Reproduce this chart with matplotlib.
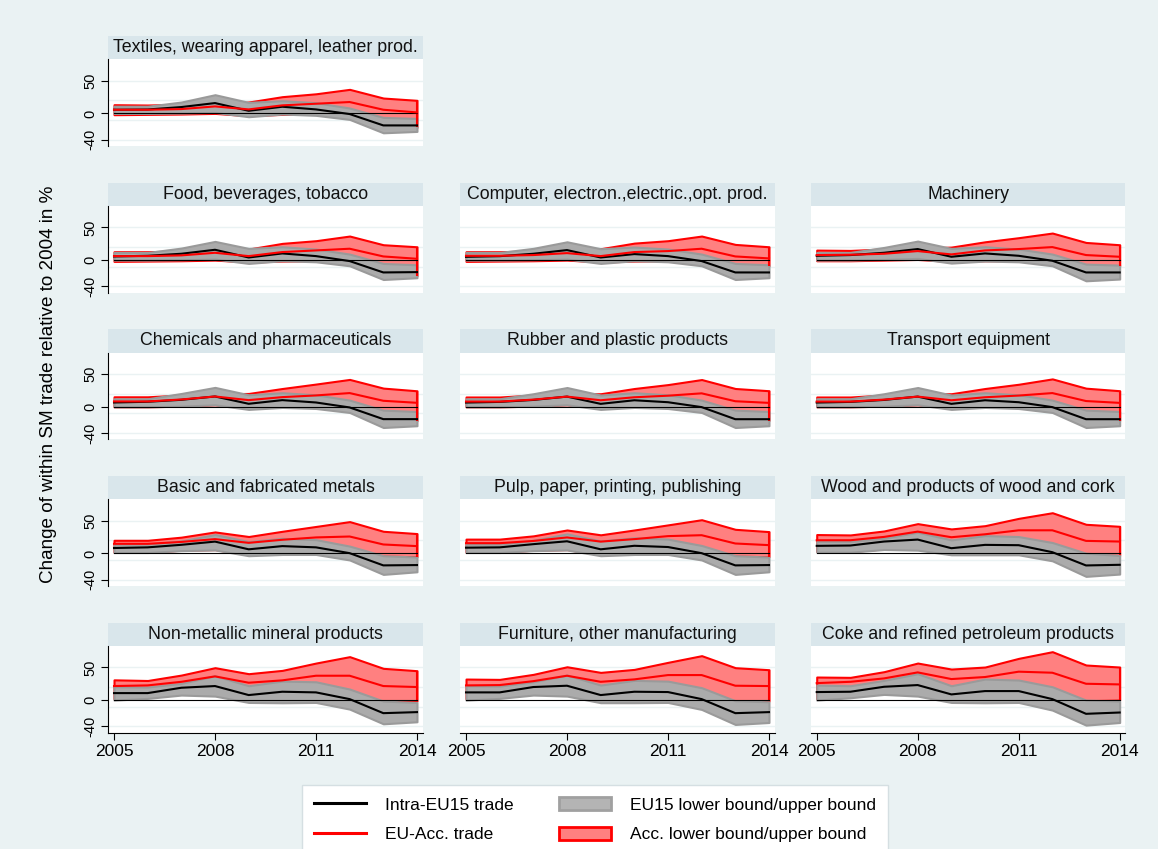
import matplotlib.pyplot as plt
from matplotlib.patches import Rectangle, Patch
from matplotlib.lines import Line2D

plt.rcParams['font.family'] = ['Liberation Sans', 'DejaVu Sans']

YEARS = list(range(2005, 2015))
X_TICKS = [2005, 2008, 2011, 2014]
Y_TICKS = [-40, 0, 50]
GRID_Y = [-40, -10, 20, 50]

PANELS = [
    "Textiles, wearing apparel, leather prod.",
    "Food, beverages, tobacco",
    "Computer, electron.,electric.,opt. prod.",
    "Machinery",
    "Chemicals and pharmaceuticals",
    "Rubber and plastic products",
    "Transport equipment",
    "Basic and fabricated metals",
    "Pulp, paper, printing, publishing",
    "Wood and products of wood and cork",
    "Non-metallic mineral products",
    "Furniture, other manufacturing",
    "Coke and refined petroleum products",
]

# Intra-EU15 trade, % change relative to 2004
EU15 = [
    [5.6, 6.0, 9.7, 15.8, 4.0, 10.2, 6.1, -1.0, -18.4, -18.4],
    [5.6, 6.6, 9.7, 15.8, 4.0, 10.2, 6.1, -1.5, -18.9, -18.4],
    [5.0, 6.0, 9.7, 15.3, 4.0, 9.2, 6.1, -1.5, -18.9, -18.9],
    [6.6, 7.7, 11.2, 16.9, 5.1, 10.2, 6.6, -1.0, -18.9, -18.9],
    [6.6, 7.7, 10.7, 15.8, 4.6, 10.2, 6.6, -1.0, -18.9, -18.9],
    [6.5, 7.5, 10.5, 15.6, 4.5, 10.0, 7.0, -0.5, -19.0, -19.0],
    [6.5, 7.5, 10.5, 15.6, 4.5, 10.0, 7.0, -0.5, -19.0, -19.0],
    [8.4, 9.4, 13.3, 18.2, 6.4, 11.3, 9.4, 0.5, -18.2, -17.7],
    [8.9, 9.4, 14.3, 18.7, 6.4, 11.8, 9.9, 0.5, -18.2, -17.7],
    [11.7, 12.2, 18.3, 21.3, 8.1, 13.2, 12.7, 2.0, -18.3, -17.3],
    [10.7, 10.7, 18.9, 21.5, 7.7, 12.8, 11.8, 1.5, -20.0, -18.4],
    [11.8, 11.8, 20.0, 22.0, 7.7, 12.8, 12.3, 1.5, -20.0, -18.4],
    [12.3, 12.8, 20.4, 23.0, 8.7, 13.8, 13.8, 1.5, -21.0, -19.0],
]
EU15_LO = [
    [0.0, 0.0, 0.5, 1.5, -5.1, -1.0, -3.0, -9.2, -29.7, -27.6],
    [0.0, 0.0, 0.5, 1.5, -5.1, -1.0, -2.6, -8.7, -29.7, -27.0],
    [0.0, 0.0, 0.5, 1.5, -5.1, -1.0, -2.6, -8.7, -29.7, -27.0],
    [0.0, 0.0, 1.0, 2.6, -4.6, -1.5, -2.6, -8.7, -31.7, -29.0],
    [0.0, 0.0, 1.0, 3.0, -4.0, -1.0, -2.6, -8.7, -31.7, -29.0],
    [0.0, 0.0, 1.0, 3.0, -4.0, -1.0, -2.6, -8.7, -31.7, -29.0],
    [0.0, 0.0, 1.0, 3.0, -4.0, -1.0, -2.6, -8.7, -31.7, -29.0],
    [1.5, 1.5, 4.4, 5.4, -3.4, -1.5, -1.5, -9.9, -32.0, -28.0],
    [1.5, 1.5, 4.4, 5.4, -3.4, -1.5, -1.5, -9.9, -32.0, -28.0],
    [2.0, 2.0, 6.1, 5.1, -2.0, -2.0, -2.0, -11.2, -35.0, -31.5],
    [0.0, 2.6, 7.7, 6.1, -3.6, -4.1, -3.6, -13.8, -36.3, -33.2],
    [0.0, 2.6, 7.7, 6.1, -4.0, -4.0, -3.6, -14.3, -37.3, -34.3],
    [0.0, 3.6, 8.7, 6.1, -3.6, -4.1, -3.6, -15.3, -38.3, -34.3],
]
EU15_HI = [
    [11.0, 11.0, 17.4, 28.6, 16.9, 19.4, 16.4, 8.2, -6.1, -7.7],
    [11.7, 11.7, 18.4, 28.6, 17.9, 20.4, 16.9, 9.2, -5.1, -7.2],
    [11.7, 11.7, 18.0, 28.0, 17.4, 20.0, 16.9, 9.2, -5.1, -7.2],
    [11.7, 11.7, 19.4, 29.1, 17.9, 20.4, 16.9, 9.2, -6.1, -7.7],
    [12.3, 12.3, 20.4, 29.7, 18.4, 21.5, 18.4, 10.2, -5.1, -7.2],
    [12.3, 12.3, 20.0, 29.5, 18.0, 21.5, 18.4, 10.2, -5.1, -7.2],
    [12.3, 12.3, 20.0, 29.5, 18.0, 21.5, 18.4, 10.2, -5.1, -7.2],
    [14.3, 14.3, 19.2, 29.0, 18.2, 23.2, 21.2, 11.3, -3.4, -5.4],
    [14.3, 14.3, 20.2, 30.0, 19.2, 24.0, 22.0, 12.3, -3.4, -5.4],
    [18.3, 18.3, 23.4, 32.5, 20.8, 27.4, 25.9, 16.8, 0.5, -3.0],
    [20.4, 20.0, 25.6, 37.3, 22.0, 29.1, 28.0, 16.9, -1.5, -3.6],
    [22.0, 21.5, 28.0, 38.3, 23.0, 30.2, 29.0, 19.0, -1.0, -2.6],
    [23.0, 22.0, 30.2, 40.4, 22.0, 32.2, 30.7, 20.4, 0.0, -1.5],
]

# EU-Accession trade, % change relative to 2004
ACC = [
    [5.6, 5.6, 6.6, 10.7, 6.1, 12.3, 14.8, 17.4, 5.6, 1.5],
    [6.1, 6.1, 7.2, 11.2, 6.1, 12.3, 14.8, 17.4, 5.6, 2.0],
    [6.6, 6.6, 7.7, 10.7, 6.1, 12.3, 13.8, 17.4, 5.6, 2.6],
    [7.7, 8.2, 9.7, 13.8, 8.7, 14.8, 16.9, 19.9, 7.7, 5.1],
    [8.2, 8.2, 11.2, 15.8, 10.2, 14.8, 17.4, 21.0, 9.2, 6.1],
    [8.0, 8.0, 11.0, 15.6, 10.0, 14.6, 17.0, 20.6, 8.5, 6.0],
    [8.0, 8.0, 11.0, 15.6, 10.0, 14.6, 17.2, 21.0, 8.8, 6.0],
    [14.8, 14.8, 17.7, 22.0, 16.3, 21.0, 24.6, 26.0, 13.8, 11.3],
    [15.8, 15.8, 19.2, 24.6, 18.2, 22.0, 26.6, 28.0, 15.3, 12.8],
    [20.3, 20.3, 25.4, 33.5, 24.9, 29.4, 35.5, 35.5, 19.3, 18.3],
    [21.5, 22.5, 28.0, 36.3, 26.6, 30.2, 37.3, 37.3, 21.5, 20.0],
    [22.5, 23.0, 29.0, 37.3, 28.0, 31.7, 38.3, 38.3, 22.0, 21.5],
    [26.0, 28.0, 33.2, 42.4, 32.2, 35.3, 43.5, 41.9, 25.0, 24.0],
]
ACC_LO = [
    [-2.0, -1.5, -1.0, 0.0, -3.6, -1.5, -1.0, -2.0, -20.0, -21.5],
    [-2.0, -1.5, -1.0, 0.0, -3.0, -1.5, -1.0, -2.0, -22.0, -24.0],
    [-2.0, -1.5, -1.0, 0.0, -3.0, -1.5, -1.0, -2.0, -8.0, -8.7],
    [-1.0, -1.0, 0.0, 1.0, -2.0, -1.0, -1.0, -2.0, -8.0, -8.7],
    [0.0, 0.0, 1.0, 3.0, -2.0, 0.0, 0.0, -2.0, -20.0, -21.5],
    [0.0, 0.0, 1.0, 3.0, -2.0, 0.0, 0.0, -2.0, -20.0, -21.0],
    [0.0, 0.0, 1.0, 3.0, -2.0, 0.0, 0.0, -2.0, -20.0, -21.0],
    [2.0, 2.0, 5.0, 6.0, -2.0, 0.0, 0.0, -3.0, -4.0, -5.0],
    [2.0, 2.0, 5.0, 6.0, -2.0, 0.0, 0.0, -3.0, -4.0, -5.0],
    [3.0, 3.0, 7.0, 7.0, -1.0, -1.0, -1.0, -5.0, -2.0, -3.0],
    [2.0, 4.0, 9.0, 8.0, -2.0, -2.0, -2.0, -6.0, -3.0, -1.5],
    [2.0, 4.0, 9.0, 8.0, -2.0, -2.0, -2.0, -6.0, -3.0, -1.5],
    [2.0, 5.0, 10.0, 8.0, -2.0, -2.0, -2.0, -6.0, -1.0, 0.0],
]
ACC_HI = [
    [13.3, 12.8, 14.0, 13.0, 17.4, 25.6, 30.0, 36.8, 23.5, 20.0],
    [12.8, 12.8, 14.0, 14.8, 16.9, 25.6, 29.7, 36.8, 23.5, 20.4],
    [12.8, 12.8, 14.0, 14.8, 17.4, 26.0, 29.7, 36.8, 24.0, 20.4],
    [15.3, 14.8, 17.0, 18.0, 19.9, 28.0, 34.3, 41.4, 27.0, 23.5],
    [15.3, 15.3, 18.0, 20.0, 20.4, 28.0, 34.8, 41.9, 28.6, 24.5],
    [15.0, 15.0, 18.0, 20.0, 20.0, 28.0, 34.0, 41.7, 28.0, 24.6],
    [15.0, 15.0, 18.0, 20.0, 20.0, 28.0, 34.5, 42.7, 28.5, 24.6],
    [20.2, 20.2, 25.0, 33.0, 26.0, 34.0, 41.4, 48.8, 34.0, 30.5],
    [22.0, 22.0, 27.0, 36.0, 28.6, 36.0, 43.8, 51.7, 37.0, 33.5],
    [29.0, 28.4, 34.5, 45.7, 37.6, 42.6, 53.8, 62.4, 44.7, 41.6],
    [31.0, 30.0, 38.3, 49.6, 40.4, 45.5, 56.7, 66.5, 48.6, 45.0],
    [32.2, 31.7, 39.4, 51.0, 42.4, 47.0, 57.8, 68.0, 49.6, 46.5],
    [35.3, 34.8, 43.5, 56.7, 47.5, 50.6, 63.9, 74.1, 53.7, 50.6],
]

BG = "#EAF2F3"
STRIP = "#D9E6EB"
RED = "#FF0000"
RED_FILL = "#FF8080"
GRAY_FILL = "#ABABAB"
GRAY_EDGE = "#9A9A9A"

W, H = 1158, 849
COL_LEFT = [108.3, 460.3, 811.0]
ROW_TOP = [59.3, 206.0, 352.7, 499.4, 646.0]
PW, PH = 314.4, 86.5
STRIP_H = 23.5

fig = plt.figure(figsize=(W / 100, H / 100), dpi=100, facecolor=BG)

# first row holds a single panel, then a 3-wide grid
slots = [(0, 0)] + [(r, c) for r in range(1, 5) for c in range(3)]

for k, (row, col) in enumerate(slots):
    left, top = COL_LEFT[col], ROW_TOP[row]
    ax = fig.add_axes([left / W, 1 - (top + PH) / H, PW / W, PH / H])
    ax.set_facecolor("white")
    ax.set_xlim(2004.83, 2014.17)
    ax.set_ylim(-49.6, 82.8)

    for g in GRID_Y:
        ax.axhline(g, color=BG, lw=1.0, zorder=0)

    ax.fill_between(YEARS, ACC_LO[k], ACC_HI[k], facecolor=RED_FILL,
                    edgecolor=RED, lw=1.5, zorder=1)
    ax.fill_between(YEARS, EU15_LO[k], EU15_HI[k], facecolor=GRAY_FILL,
                    edgecolor=GRAY_EDGE, lw=1.5, zorder=2)
    ax.vlines(YEARS[-1], ACC_LO[k][-1], ACC_HI[k][-1], color=RED, lw=1.5, zorder=3)
    ax.plot(YEARS, [0] * len(YEARS), color="black", lw=0.8, zorder=3)
    ax.plot(YEARS, EU15[k], color="black", lw=1.5, zorder=4)
    ax.plot(YEARS, ACC[k], color=RED, lw=1.5, zorder=5)

    for side in ax.spines:
        ax.spines[side].set_visible(False)

    if col == 0:
        ax.spines["left"].set_visible(True)
        ax.spines["left"].set_linewidth(0.8)
        ax.set_yticks(Y_TICKS)
        ax.set_yticklabels([str(v) for v in Y_TICKS], rotation=90, va="center",
                           fontsize=10.5)
        ax.tick_params(axis="y", length=5, width=0.8, pad=3)
    else:
        ax.set_yticks([])

    if row == 4:
        ax.spines["bottom"].set_visible(True)
        ax.spines["bottom"].set_linewidth(0.8)
        ax.set_xticks(X_TICKS)
        ax.set_xticklabels([str(v) for v in X_TICKS], fontsize=12.5)
        ax.tick_params(axis="x", length=5, width=0.8, pad=3)
    else:
        ax.set_xticks([])

    # panel header strip
    sh = STRIP_H / PH
    ax.add_patch(Rectangle((0, 1), 1, sh, transform=ax.transAxes,
                           facecolor=STRIP, edgecolor="none", clip_on=False))
    ax.text(0.5, 1 + sh / 2, PANELS[k], transform=ax.transAxes, ha="center",
            va="center", fontsize=12.8, color="#111111")

fig.text(49 / W, 1 - 384 / H, "Change of within SM trade relative to 2004 in %",
         rotation=90, ha="center", va="center", fontsize=13.6)

handles = [
    Line2D([], [], color="black", lw=2.2),
    Line2D([], [], color=RED, lw=2.2),
    Patch(facecolor="#B4B4B4", edgecolor="#A0A0A0", lw=2),
    Patch(facecolor=RED_FILL, edgecolor=RED, lw=2),
]
labels = ["Intra-EU15 trade", "EU-Acc. trade",
          "EU15 lower bound/upper bound", "Acc. lower bound/upper bound"]
fig.legend(handles, labels, ncol=2, loc="upper left",
           bbox_to_anchor=(302 / W, 1 - 785 / H), frameon=True, fancybox=False,
           edgecolor="#D5DFE2", facecolor="white", framealpha=1, fontsize=12.5,
           handlelength=3.0, handleheight=0.8, handletextpad=1.1,
           columnspacing=2.6, labelspacing=0.8, borderpad=0.7, borderaxespad=0)

fig.savefig("out.png", dpi=100, facecolor=BG)
